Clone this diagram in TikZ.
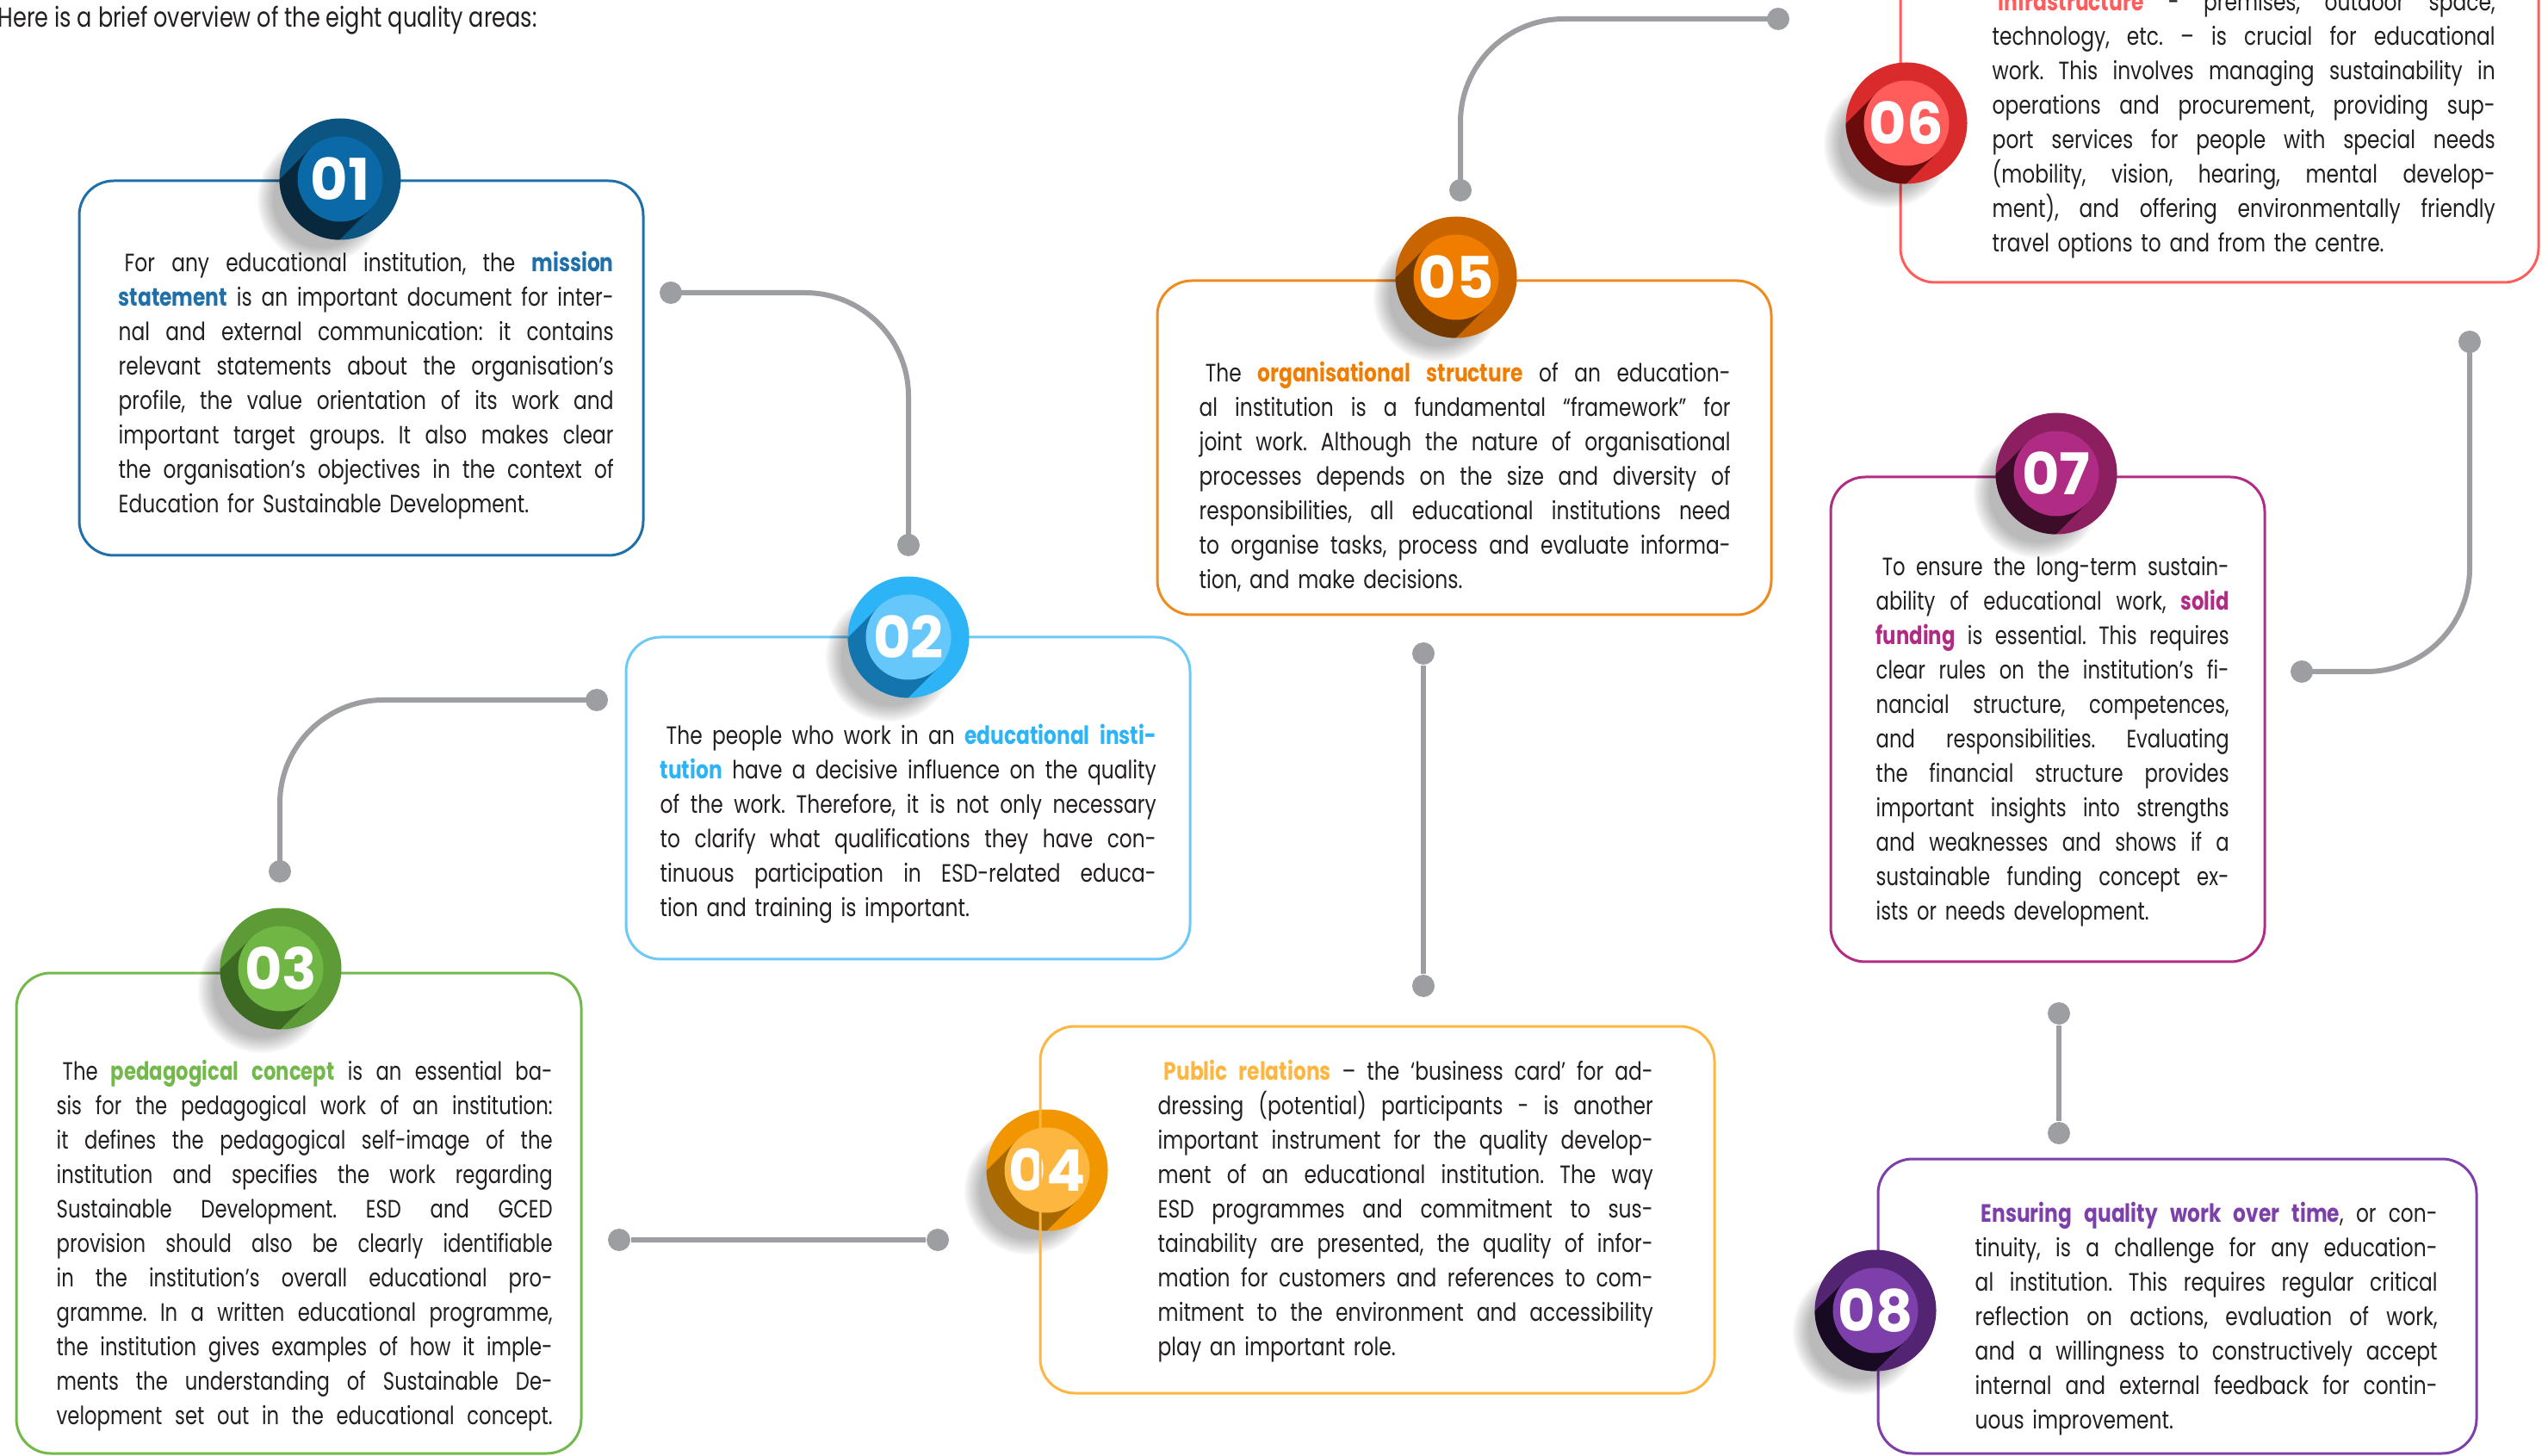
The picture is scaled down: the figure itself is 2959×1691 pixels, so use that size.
\documentclass[tikz,border=0pt]{standalone}
\usepackage{fontspec}
\setmainfont{Poppins}[FakeStretch=0.8]
\newfontfamily\numfont{Poppins}
\newfontfamily\widefont{Poppins}[FakeStretch=0.78]
\frenchspacing

\definecolor{ink}{HTML}{231F20}
\definecolor{lgray}{HTML}{9D9EA2}
\definecolor{c01o}{HTML}{0B5583}\definecolor{c01i}{HTML}{0A69A6}\definecolor{c01d}{HTML}{07283D}\definecolor{c01b}{HTML}{1F70AA}
\definecolor{c02o}{HTML}{2DB4F6}\definecolor{c02i}{HTML}{66C8FA}\definecolor{c02d}{HTML}{1475AE}\definecolor{c02b}{HTML}{6DC9F6}
\definecolor{c03o}{HTML}{5C9B36}\definecolor{c03i}{HTML}{70B645}\definecolor{c03d}{HTML}{3C6A23}\definecolor{c03b}{HTML}{72B84A}
\definecolor{c04o}{HTML}{F29600}\definecolor{c04i}{HTML}{FDB740}\definecolor{c04d}{HTML}{A86A00}\definecolor{c04b}{HTML}{FDB740}
\definecolor{c05o}{HTML}{C86500}\definecolor{c05i}{HTML}{EF7D00}\definecolor{c05d}{HTML}{713900}\definecolor{c05b}{HTML}{F08A1C}
\definecolor{c06o}{HTML}{D92B2B}\definecolor{c06i}{HTML}{FF5C5C}\definecolor{c06d}{HTML}{6B0B0B}\definecolor{c06b}{HTML}{FF5C5C}
\definecolor{c07o}{HTML}{8B1F5F}\definecolor{c07i}{HTML}{B02C84}\definecolor{c07d}{HTML}{3B0D28}\definecolor{c07b}{HTML}{B22C84}
\definecolor{c08o}{HTML}{522472}\definecolor{c08i}{HTML}{7D40AA}\definecolor{c08d}{HTML}{190A24}\definecolor{c08b}{HTML}{7D40AA}

\newcommand\bodyfont{\fontsize{8.3}{11.38}\selectfont}
\newlength\lw
\newcommand\jline[1]{\hbox to\lw{\spaceskip=\fontdimen2\font plus 1fil minus \fontdimen4\font\relax #1}\par}
\newcommand\lline[1]{\hbox{#1}\par}
\newcommand\keyw[2]{{\bfseries\color{#1}#2}}

\begin{document}
\begin{tikzpicture}[x=0.1mm, y=-0.1mm,
  conn/.style={draw=lgray, line width=0.6mm},
  dot/.style={circle, fill=lgray, inner sep=0pt, minimum size=2.6mm},
  qbox/.style={draw=#1, line width=0.3mm, rounded corners=4mm, inner sep=0pt},
  txt/.style={anchor=north west, inner sep=0pt, text=ink, font=\bodyfont,
    text width=#1, execute at begin node={\setlength{\lw}{#1}}},
  num/.style={text=white, inner sep=0pt, font=\numfont\fontsize{19}{19}\selectfont\bfseries}]
\useasboundingbox (0,0) rectangle (2959,1691);
\clip (0,0) rectangle (2959,1691);

\node[anchor=west, inner sep=0pt, text=ink, font=\fontsize{9.1}{11}\selectfont] (head) at (-3,24) {Here is a brief overview of the eight quality areas:};

% boxes
\node[qbox=c01b, minimum width=65.5mm, minimum height=43.5mm] (b1) at (419.5,427.5) {};
\node[qbox=c02b, minimum width=65.5mm, minimum height=37.4mm] (b2) at (1054.5,927) {};
\node[qbox=c03b, minimum width=65.6mm, minimum height=55.8mm] (b3) at (347,1409) {};
\node[qbox=c05b, minimum width=71.3mm, minimum height=38.8mm] (b5) at (1700.5,520) {};
\node[qbox=c06b, minimum width=74.1mm, minimum height=42.8mm] (b6) at (2577.5,114) {};
\node[qbox=c07b, minimum width=50.4mm, minimum height=56.3mm] (b7) at (2378,835.5) {};
\node[qbox=c08b, minimum width=69.5mm, minimum height=34.2mm] (b8) at (2528.5,1517) {};

% numbered badges
\foreach \n/\px/\py in {01/395/208, 02/1055/740, 03/326/1125, 04/1216/1359,
                        05/1691/322, 06/2214/143, 07/2388/550, 08/2178/1522}{
  \foreach \k in {0,...,9}
    \fill[black, opacity=0.03] (\px-22,\py+24) circle ({74-2*\k});
  \node[circle, fill=c\n o, inner sep=0pt, minimum size=14.1mm] (n\n) at (\px,\py) {};
  \begin{scope}
    \clip (\px,\py) circle (70.5);
    \fill[c\n d] (\px+35,\py+35) -- (\px-35,\py-35) -- (\px-235,\py+165) -- (\px-165,\py+235) -- cycle;
  \end{scope}
  \fill[c\n i] (\px,\py) circle (49.5);
  \node[num] at (\px,\py) {\n};
}

\node[qbox=c04b, minimum width=78.3mm, minimum height=42.6mm] (b4) at (1599.5,1405) {};

% connectors
\node[dot] (d1a) at (779,340) {};
\node[dot] (d1b) at (1055,633) {};
\node[dot] (d2a) at (693,813) {};
\node[dot] (d2b) at (325,1012) {};
\node[dot] (d3a) at (719,1440) {};
\node[dot] (d3b) at (1089,1440) {};
\node[dot] (d4a) at (1653,1145) {};
\node[dot] (d4b) at (1653,759) {};
\node[dot] (d5a) at (1696,221) {};
\node[dot] (d5b) at (2065,22) {};
\node[dot] (d6a) at (2868,397) {};
\node[dot] (d6b) at (2673,780) {};
\node[dot] (d7a) at (2391,1177) {};
\node[dot] (d7b) at (2391,1316) {};
\draw[conn, rounded corners=12mm] (d1a.center) -| (d1b.center);
\draw[conn, rounded corners=12mm] (d2a.center) -| (d2b.center);
\draw[conn] (d3a) -- (d3b);
\draw[conn] (d4a) -- (d4b);
\draw[conn, rounded corners=12mm] (d5a.center) |- (d5b.center);
\draw[conn, rounded corners=12mm] (d6a.center) |- (d6b.center);
\draw[conn] (d7a) -- (d7b);

% texts
\node[txt=57.5mm] (t1) at (137,291) {
\jline{\kern2pt For any educational institution, the \keyw{c01b}{mission}}
\jline{\keyw{c01b}{statement} is an important document for inter-}
\jline{nal and external communication: it contains}
\jline{relevant statements about the organisation’s}
\jline{profile, the value orientation of its work and}
\jline{important target groups. It also makes clear}
\jline{the organisation’s objectives in the context of}
\lline{Education for Sustainable Development.}};

\node[txt=57.6mm] (t2) at (766,840) {
\jline{\kern2pt The people who work in an \keyw{c02o}{educational insti-}}
\jline{\keyw{c02o}{tution} have a decisive influence on the quality}
\jline{of the work. Therefore, it is not only necessary}
\jline{to clarify what qualifications they have con-}
\jline{tinuous participation in ESD-related educa-}
\lline{tion and training is important.}};

\node[txt=57.6mm, font=\widefont\bodyfont] (t3) at (65,1230) {
\jline{\kern2pt The \keyw{c03b}{pedagogical concept} is an essential ba-}
\jline{sis for the pedagogical work of an institution:}
\jline{it defines the pedagogical self-image of the}
\jline{institution and specifies the work regarding}
\jline{Sustainable Development. ESD and GCED}
\jline{provision should also be clearly identifiable}
\jline{in the institution’s overall educational pro-}
\jline{gramme. In a written educational programme,}
\jline{the institution gives examples of how it imple-}
\jline{ments the understanding of Sustainable De-}
\jline{velopment set out in the educational concept.}};

\node[txt=57.5mm] (t4) at (1344,1230) {
\jline{\kern2pt\keyw{c04b}{Public relations} – the ‘business card’ for ad-}
\jline{dressing (potential) participants - is another}
\jline{important instrument for the quality develop-}
\jline{ment of an educational institution. The way}
\jline{ESD programmes and commitment to sus-}
\jline{tainability are presented, the quality of infor-}
\jline{mation for customers and references to com-}
\jline{mitment to the environment and accessibility}
\lline{play an important role.}};

\node[txt=61.7mm] (t5) at (1392,419) {
\jline{\kern2pt The \keyw{c05i}{organisational structure} of an education-}
\jline{al institution is a fundamental “framework” for}
\jline{joint work. Although the nature of organisational}
\jline{processes depends on the size and diversity of}
\jline{responsibilities, all educational institutions need}
\jline{to organise tasks, process and evaluate informa-}
\lline{tion, and make decisions.}};

\node[txt=58.4mm] (t6) at (2313,-11) {
\jline{\kern2pt\keyw{c06i}{Infrastructure} - premises, outdoor space,}
\jline{technology, etc. – is crucial for educational}
\jline{work. This involves managing sustainability in}
\jline{operations and procurement, providing sup-}
\jline{port services for people with special needs}
\jline{(mobility, vision, hearing, mental develop-}
\jline{ment), and offering environmentally friendly}
\lline{travel options to and from the centre.}};

\node[txt=41mm, font=\widefont\bodyfont] (t7) at (2178,646) {
\jline{\kern2pt To ensure the long-term sustain-}
\jline{ability of educational work, \keyw{c07i}{solid}}
\jline{\keyw{c07i}{funding} is essential. This requires}
\jline{clear rules on the institution’s fi-}
\jline{nancial structure, competences,}
\jline{and responsibilities. Evaluating}
\jline{the financial structure provides}
\jline{important insights into strengths}
\jline{and weaknesses and shows if a}
\jline{sustainable funding concept ex-}
\lline{ists or needs development.}};

\node[txt=53.7mm] (t8) at (2293,1395) {
\jline{\kern2pt\keyw{c08i}{Ensuring quality work over time}, or con-}
\jline{tinuity, is a challenge for any education-}
\jline{al institution. This requires regular critical}
\jline{reflection on actions, evaluation of work,}
\jline{and a willingness to constructively accept}
\jline{internal and external feedback for contin-}
\lline{uous improvement.}};
\end{tikzpicture}
\end{document}
